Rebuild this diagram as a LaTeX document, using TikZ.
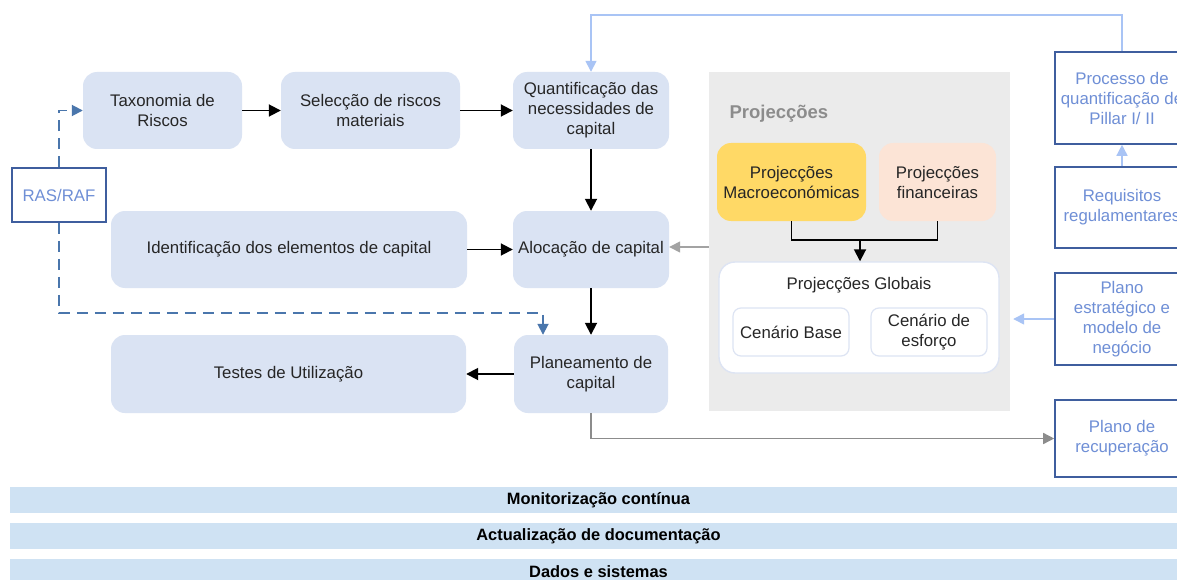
\documentclass[tikz,border=0pt]{standalone}
\usepackage{fontspec}
\setmainfont{Liberation Sans}
\usetikzlibrary{arrows.meta}
\definecolor{boxblue}{HTML}{DAE3F3}
\definecolor{barblue}{HTML}{CFE2F3}
\definecolor{panelgray}{HTML}{EBEBEB}
\definecolor{macroy}{HTML}{FFD966}
\definecolor{finp}{HTML}{FCE4D6}
\definecolor{darkb}{HTML}{3F5E9E}
\definecolor{lightt}{HTML}{6F8FD6}
\definecolor{fbline}{HTML}{A9C4F5}
\definecolor{dashb}{HTML}{4A76AC}
\definecolor{txt}{HTML}{262626}
\definecolor{grayline}{HTML}{8C8C8C}
\definecolor{globb}{HTML}{DDE4F3}
\begin{document}
\begin{tikzpicture}[x=1pt,y=-1pt,
  font=\fontsize{16.8}{20}\selectfont,
  bluebox/.style={rectangle,rounded corners=14pt,fill=boxblue,text=txt,align=center,inner sep=2pt},
  outbox/.style={rectangle,draw=darkb,line width=1.6pt,fill=white,text=lightt,align=center,inner sep=2pt},
  bar/.style={rectangle,fill=barblue,text=black,font=\fontsize{16.4}{18}\selectfont\bfseries,inner sep=0pt},
  arr/.style={-{Triangle[length=12pt,width=12pt]},line width=1.8pt,black},
  grayarr/.style={-{Triangle[length=11pt,width=11pt]},line width=1.5pt,grayline!80},
  lbarr/.style={-{Triangle[length=11pt,width=11pt]},line width=1.5pt,fbline},
  dashed line/.style={-{Triangle[length=11pt,width=11pt]},line width=1.8pt,dashb,dash pattern=on 11pt off 7pt},
  whitebox/.style={rectangle,rounded corners=8pt,draw=globb,line width=1.2pt,fill=white,text=txt,align=center,inner sep=2pt}
]
\useasboundingbox (0,0) rectangle (1177,580);
\fill[white] (0,0) rectangle (1177,580);

% Projecciones panel
\node[rectangle,fill=panelgray,minimum width=301pt,minimum height=339pt,inner sep=0pt] (projpanel) at (859.5,241.5) {};
\node[anchor=west,text=gray!90,font=\fontsize{18.5}{20}\selectfont\bfseries] (projtitle) at (726,114) {Projecções};
\node[rectangle,rounded corners=14pt,fill=macroy,text=txt,align=center,minimum width=149pt,minimum height=78pt] (macro) at (791.5,182) {Projecções\\Macroeconómicas};
\node[rectangle,rounded corners=14pt,fill=finp,text=txt,align=center,minimum width=117pt,minimum height=78pt] (fin) at (937.5,182) {Projecções\\financeiras};
\node[rectangle,rounded corners=16pt,draw=globb,line width=1.4pt,fill=white,minimum width=280pt,minimum height=111pt] (glob) at (859,317.5) {};
\node[text=txt] (globtitle) at (859,285) {Projecções Globais};
\node[whitebox,minimum width=116pt,minimum height=48pt] (base) at (791,332) {Cenário Base};
\node[whitebox,minimum width=116pt,minimum height=48pt] (esf) at (929,332) {Cenário de\\esforço};

% Main flow
\node[bluebox,minimum width=159pt,minimum height=77pt] (tax) at (162.5,110.5) {Taxonomia de\\Riscos};
\node[bluebox,minimum width=179pt,minimum height=77pt] (sel) at (370.5,110.5) {Selecção de riscos\\materiais};
\node[bluebox,minimum width=156pt,minimum height=77pt] (quant) at (591,110.5) {Quantificação das\\necessidades de\\capital};
\node[bluebox,minimum width=156pt,minimum height=77pt] (aloc) at (591,249.5) {Alocação de capital};
\node[bluebox,minimum width=356pt,minimum height=77pt] (ident) at (289,249.5) {Identificação dos elementos de capital};
\node[bluebox,minimum width=154pt,minimum height=78pt] (plan) at (591,374) {Planeamento de\\capital};
\node[bluebox,minimum width=355pt,minimum height=78pt] (test) at (288.5,374) {Testes de Utilização};

\node[outbox,minimum width=94pt,minimum height=54pt] (ras) at (59,195) {RAS/RAF};

% Right boxes
\node[outbox,minimum width=134pt,minimum height=92pt] (proc) at (1122,98) {Processo de\\quantificação de\\Pillar I/ II};
\node[outbox,minimum width=134pt,minimum height=81pt] (req) at (1122,207.5) {Requisitos\\regulamentares};
\node[outbox,minimum width=134pt,minimum height=92pt] (pest) at (1122,319) {Plano\\estratégico e\\modelo de\\negócio};
\node[outbox,minimum width=134pt,minimum height=77pt] (prec) at (1122,438.5) {Plano de\\recuperação};

% Bottom bars
\node[bar,minimum width=1177pt,minimum height=26pt] (mon) at (598.5,500) {Monitorização contínua};
\node[bar,minimum width=1177pt,minimum height=26pt] (act) at (598.5,536) {Actualização de documentação};
\node[bar,minimum width=1177pt,minimum height=26pt] (dad) at (598.5,572) {Dados e sistemas};

% Coordinates
\coordinate (fb) at (591,15);
\coordinate (rj) at (543,313);
\coordinate (mj) at (860,240);

% Connectors
\draw[arr] (tax) -- (sel);
\draw[arr] (sel) -- (quant);
\draw[arr] (quant) -- (aloc);
\draw[arr] (ident) -- (aloc);
\draw[arr] (aloc) -- (plan);
\draw[arr] (plan) -- (test);
\draw[grayarr] (projpanel.west |- 0,247) -- (aloc.east |- 0,247);
\draw[line width=1.5pt,grayline,-{Triangle[length=11pt,width=11pt]}] (plan.south) |- (prec.west);
\draw[line width=1.8pt,black] (macro.south) |- (mj) -| (fin.south);
\draw[arr] (mj) -- (mj |- glob.north);
\draw[lbarr] (proc.north) |- (fb) -- (quant.north);
\draw[lbarr] (req.north) -- (proc.south);
\draw[lbarr] (pest.west) -- ([xshift=3pt]projpanel.east |- pest.west);
\draw[dashed line] (ras.north) |- (tax.west);
\draw[dashed line] (ras.south) |- (rj) -- (rj |- plan.north);
\end{tikzpicture}
\end{document}
